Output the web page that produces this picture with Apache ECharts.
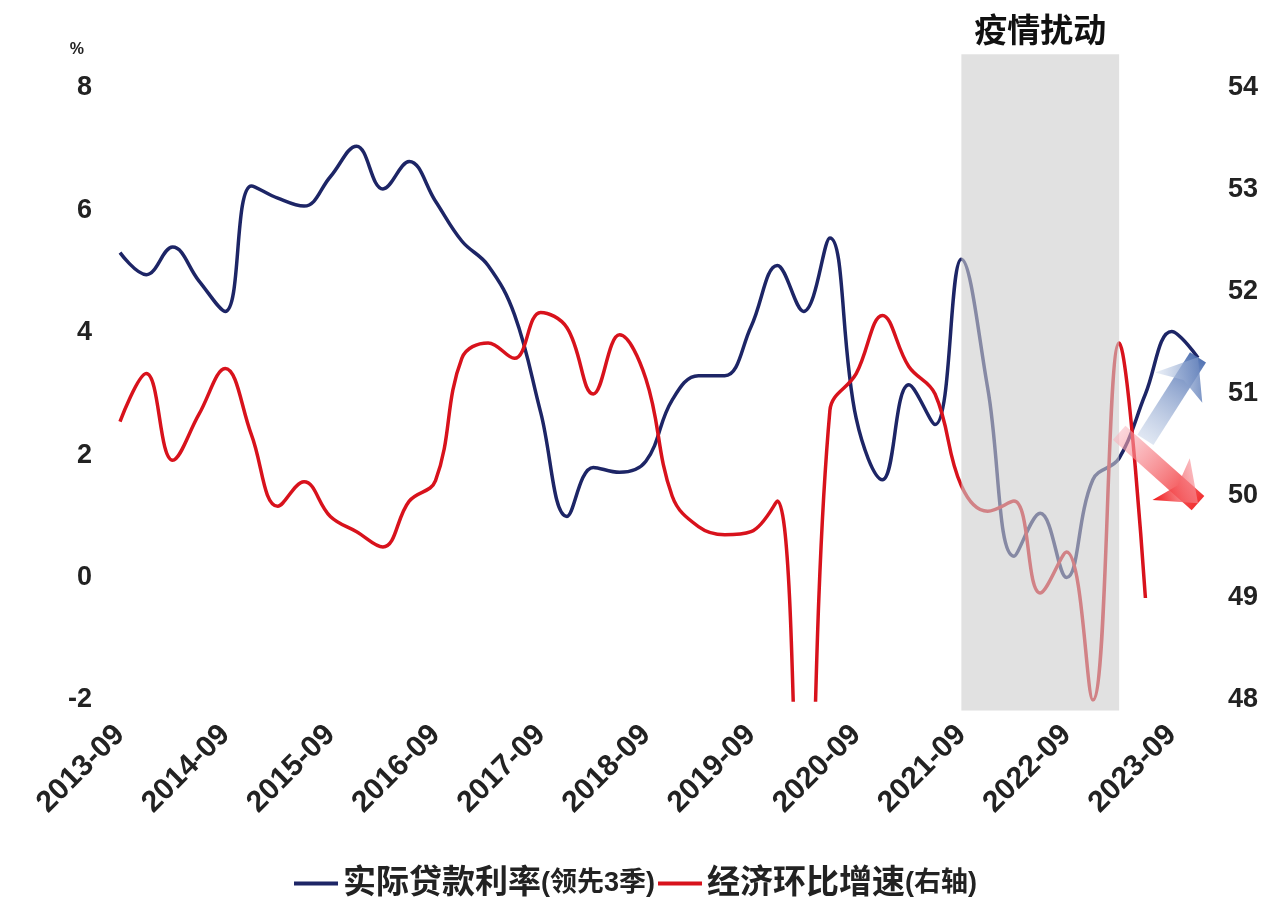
<!DOCTYPE html>
<html>
<head>
<meta charset="utf-8">
<script src="https://cdn.jsdelivr.net/npm/echarts@6/dist/echarts.min.js"></script>
<style>
  html, body { margin: 0; padding: 0; background: #fff; }
  #main { width: 1271px; height: 899px; }
</style>
</head>
<body>
<div id="main"></div>
<script>
// 季度
var quarters = ['2013-09','2013-12','2014-03','2014-06','2014-09','2014-12','2015-03','2015-06',
  '2015-09','2015-12','2016-03','2016-06','2016-09','2016-12','2017-03','2017-06',
  '2017-09','2017-12','2018-03','2018-06','2018-09','2018-12','2019-03','2019-06',
  '2019-09','2019-12','2020-03','2020-06','2020-09','2020-12','2021-03','2021-06',
  '2021-09','2021-12','2022-03','2022-06','2022-09','2022-12','2023-03','2023-06',
  '2023-09','2023-12'];

// 实际贷款利率(领先3季)，左轴 %
var loanRate = [5.31, 4.95, 5.4, 4.85, 4.35, 6.4, 6.2, 6.07, 6.55, 7.05, 6.35, 6.8,
  6.15, 5.5, 5.1, 4.3, 2.7, 1.0, 1.8, 1.72, 1.9, 2.9, 3.3, 3.3,
  4.1, 5.1, 4.35, 5.55, 2.6, 1.6, 3.15, 2.5, 5.2, 3.1, 0.35, 1.05,
  0.0, 1.6, 1.95, 3.0, 4.02, 3.59];

// 经济环比增速(右轴)
var growth = [50.73, 51.2, 50.35, 50.8, 51.25, 50.6, 49.9, 50.14, 49.8, 49.65, 49.5, 49.95,
  50.15, 51.35, 51.5, 51.35, 51.8, 51.65, 51.0, 51.58, 51.15, 50.0, 49.7, 49.62,
  49.65, 49.95, 45.4, 50.84, 51.2, 51.77, 51.27, 51.0, 50.1, 49.85, 49.95, 49.05,
  49.45, 48.0, 51.5, 49.0, null, null];

var leftTicks = [-2, 0, 2, 4, 6, 8];
var rightTicks = [48, 49, 50, 51, 52, 53, 54];

// 疫情扰动区间（阴影略超出坐标范围）
var covidStart = '2021-09', covidEnd = '2023-03';
var covidTop = 8.55, covidBottom = -2.17;

var names = ['实际贷款利率(领先3季)', '经济环比增速(右轴)'];

var font = "'Liberation Sans', 'Noto Sans CJK SC', sans-serif";

var chart = echarts.init(document.getElementById('main'));

var option = {
  backgroundColor: '#fff',
  textStyle: { fontFamily: font },
  grid: { left: 120, right: 73, top: 88, bottom: 199 },
  legend: {
    data: names,
    top: 862,
    left: 'center',
    icon: 'rect',
    itemWidth: 44,
    itemHeight: 4,
    itemGap: 3,
    formatter: function (name) {
      var i = name.indexOf('(');
      return '{a|' + name.slice(0, i) + '}{b|' + name.slice(i) + '}';
    },
    textStyle: {
      color: '#222',
      rich: {
        a: { fontSize: 33, fontFamily: font, color: '#222', fontWeight: 'bold' },
        b: { fontSize: 27, fontFamily: font, color: '#222', fontWeight: 'bold' }
      }
    }
  },
  xAxis: {
    type: 'category',
    data: quarters,
    boundaryGap: false,
    axisLine: { show: false },
    axisTick: { show: false },
    splitLine: { show: false },
    axisLabel: {
      interval: 3,
      rotate: 45,
      margin: 30,
      fontSize: 30,
      fontWeight: 'bold',
      color: '#222'
    }
  },
  yAxis: [{
    type: 'value',
    min: leftTicks[0],
    max: leftTicks[leftTicks.length - 1],
    interval: 2,
    name: '%',
    nameGap: 30,
    nameTextStyle: { fontSize: 16, fontWeight: 'bold', color: '#222', align: 'right', padding: [0, 36, 0, 0] },
    axisLine: { show: false },
    axisTick: { show: false },
    splitLine: { show: false },
    axisLabel: { fontSize: 27, fontWeight: 'bold', color: '#222', margin: 28 }
  }, {
    type: 'value',
    min: rightTicks[0],
    max: rightTicks[rightTicks.length - 1],
    interval: 1,
    position: 'right',
    axisLine: { show: false },
    axisTick: { show: false },
    splitLine: { show: false },
    axisLabel: { fontSize: 27, fontWeight: 'bold', color: '#222', margin: 30 }
  }],
  series: [{
    name: names[0],
    type: 'line',
    data: loanRate,
    yAxisIndex: 0,
    smooth: 0.4,
    symbol: 'none',
    z: 2,
    lineStyle: { color: '#1d2566', width: 3.5 },
    itemStyle: { color: '#1d2566' },
    markLine: {
      silent: true,
      z: 20,
      symbol: ['none', 'arrow'],
      symbolSize: [42, 36],
      label: { show: false },
      lineStyle: {
        type: 'solid',
        width: 19,
        color: new echarts.graphic.LinearGradient(0, 1, 1, 0, [
          { offset: 0, color: 'rgba(215,225,240,0.5)' },
          { offset: 1, color: '#3a5fa8' }
        ])
      },
      itemStyle: { color: '#3a5fa8' },
      data: [[{ coord: [38.9, 2.25] }, { coord: [41.15, 3.6] }]]
    }
  }, {
    name: names[1],
    type: 'line',
    data: growth,
    yAxisIndex: 1,
    smooth: 0.4,
    symbol: 'none',
    z: 2,
    lineStyle: { color: '#d8121c', width: 3.5 },
    itemStyle: { color: '#d8121c' },
    markLine: {
      silent: true,
      z: 21,
      symbol: ['none', 'arrow'],
      symbolSize: [42, 36],
      label: { show: false },
      lineStyle: {
        type: 'solid',
        width: 19,
        color: new echarts.graphic.LinearGradient(0, 0, 1, 1, [
          { offset: 0, color: 'rgba(250,200,210,0.5)' },
          { offset: 1, color: '#f01414' }
        ])
      },
      itemStyle: { color: '#f01414' },
      data: [[{ coord: [38.4, 50.62] }, { coord: [41.15, 49.93] }]]
    }
  }, {
    name: '疫情扰动',
    type: 'line',
    data: [],
    yAxisIndex: 0,
    z: 10,
    markArea: {
      silent: true,
      z: 10,
      itemStyle: { color: 'rgba(205,205,205,0.6)' },
      label: {
        show: true,
        position: 'top',
        distance: 5,
        fontSize: 33,
        fontWeight: 'bold',
        color: '#111'
      },
      data: [[{ name: '疫情扰动', xAxis: covidStart, yAxis: covidTop }, { xAxis: covidEnd, yAxis: covidBottom }]]
    }
  }]
};

chart.setOption(option);

// 阴影区用坐标轴换算成像素，允许超出绘图区
var x0 = chart.convertToPixel({ xAxisIndex: 0 }, covidStart);
var x1 = chart.convertToPixel({ xAxisIndex: 0 }, covidEnd);
var y0 = chart.convertToPixel({ yAxisIndex: 0 }, covidTop);
var y1 = chart.convertToPixel({ yAxisIndex: 0 }, covidBottom);
chart.setOption({
  series: [{}, {}, {
    markArea: {
      data: [[{ name: '疫情扰动', x: x0, y: y0 }, { x: x1, y: y1 }]]
    }
  }]
});
</script>
</body>
</html>
